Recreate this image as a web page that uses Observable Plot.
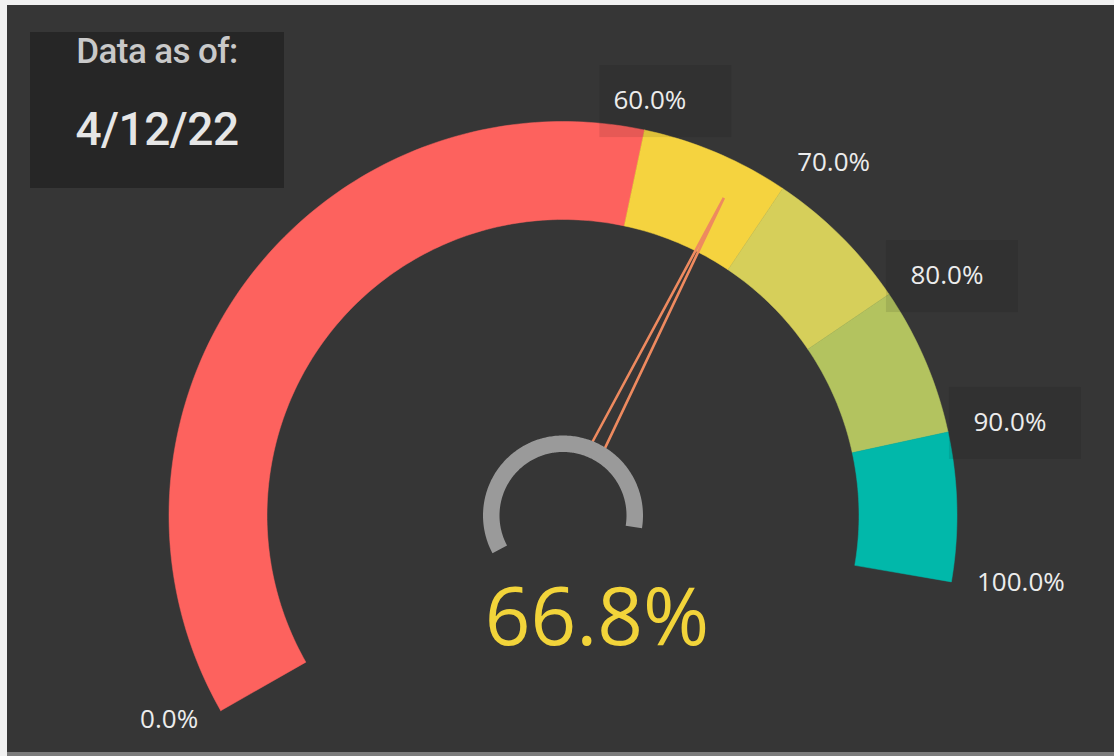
<!DOCTYPE html>
<html>
<head>
<meta charset="utf-8">
<script src="https://cdn.jsdelivr.net/npm/d3@7"></script>
<script src="https://cdn.jsdelivr.net/npm/@observablehq/plot@0.6"></script>
<style>
  html, body { margin: 0; padding: 0; }
  body { width: 1114px; height: 756px; background: #f1f1f1; position: relative; overflow: hidden; }
  #panel { position: absolute; left: 7px; top: 5px; width: 1107px; height: 747px; background: #363636; border-bottom: 4px solid #7c7c7c; }
  #datebox { position: absolute; left: 30px; top: 32px; width: 254px; height: 156px; background: #262626; text-align: center; font-family: Roboto, "DejaVu Sans", sans-serif; }
  #datebox .t1 { position: absolute; left: 0; right: 0; top: 2px; font-size: 35px; font-weight: 500; color: #c9c9c9; line-height: 1; letter-spacing: -0.6px; }
  #datebox .t2 { position: absolute; left: 0; right: 0; top: 74px; font-size: 46px; font-weight: 500; color: #e6e6e6; line-height: 1; letter-spacing: -0.5px; }
  #chart { position: absolute; left: 0; top: 0; }
</style>
</head>
<body>
<div id="panel"></div>
<div id="chart"></div>
<div id="datebox"><div class="t1"></div><div class="t2"></div></div>
<script>
// ---- data ----
const bandStarts = [0.0, 0.6, 0.7, 0.8, 0.9];
const bandEnds   = [0.6, 0.7, 0.8, 0.9, 1.0];
const bandColors = ["#FD625E", "#F5D33F", "#D6CF5A", "#B3C35F", "#01B8AA"];
const tickValues = [0.0, 0.6, 0.7, 0.8, 0.9, 1.0];
const tickLabels = ["0.0%", "60.0%", "70.0%", "80.0%", "90.0%", "100.0%"];
const boxedTicks = [0.6, 0.8, 0.9];
const currentValue = 0.668;
const valueLabel = "66.8%";
const dateTitle = "Data as of:";
const dateValue = "4/12/22";

// ---- gauge geometry ----
const W = 1114, H = 756;
const cx = 562.5, cy = 515;
const rOuter = 394, rInner = 296;
const hubOuter = 80, hubInner = 63.5;
const needleTip = 356, needleHalf = 7;
const labelR = 420;
const ang = d3.scaleLinear().domain([0, 1]).range([-119.7, 99.7]); // degrees, clockwise from up
const rad = d => d * Math.PI / 180;
const pt = (deg, r) => ({x: cx + r * Math.sin(rad(deg)), y: cy - r * Math.cos(rad(deg))});

function arcPolygon(a0, a1, r0, r1) {
  const n = Math.max(2, Math.ceil(Math.abs(a1 - a0)));
  const outer = d3.range(n + 1).map(i => pt(a0 + (a1 - a0) * i / n, r1));
  const inner = d3.range(n + 1).map(i => pt(a1 - (a1 - a0) * i / n, r0));
  const p = outer.concat(inner);
  p.push(p[0]);
  return p;
}

const bands = bandStarts.map((s, i) => ({poly: arcPolygon(ang(s), ang(bandEnds[i]), rInner, rOuter), color: bandColors[i]}));

const labels = tickValues.map((v, i) => {
  const p = pt(ang(v), labelR);
  return {v, text: tickLabels[i], x: p.x, y: p.y - 4};
});
const boxes = labels.filter(d => boxedTicks.includes(d.v)).map(d => {
  const left = d.v <= 0.6 ? d.x - 50 : d.x - 24;
  return {x1: left, x2: left + 132, y1: d.y - 35, y2: d.y + 37};
});

const na = ang(currentValue);
const tip = pt(na, needleTip);
const base = pt(na, hubOuter - 2);
const perp = {x: Math.cos(rad(na)), y: Math.sin(rad(na))};
const needle = [
  {x: base.x - perp.x * needleHalf, y: base.y - perp.y * needleHalf},
  tip,
  {x: base.x + perp.x * needleHalf, y: base.y + perp.y * needleHalf}
];
const hub = arcPolygon(ang(0) + 1.5, ang(1) - 0.5, hubInner, hubOuter);

const textStyle = {fontFamily: "'Open Sans', 'Noto Sans', sans-serif", fontSize: 26, fill: "#ececec"};

const chart = Plot.plot({
  width: W, height: H, margin: 0,
  x: {domain: [0, W], range: [0, W], axis: null},
  y: {domain: [0, H], range: [0, H], axis: null},
  style: {background: "transparent", overflow: "visible"},
  marks: [
    ...bands.map(b => Plot.line(b.poly, {x: "x", y: "y", fill: b.color, stroke: b.color, strokeWidth: 0.5, curve: "linear"})),
    Plot.rect(boxes, {x1: "x1", x2: "x2", y1: "y1", y2: "y2", fill: "#000", fillOpacity: 0.09}),
    Plot.line(needle, {x: "x", y: "y", stroke: "#EE8A5F", strokeWidth: 2.6, strokeLinejoin: "miter", fill: "none"}),
    Plot.line(hub, {x: "x", y: "y", fill: "#9A9A9A", stroke: "none"}),
    Plot.text(labels.filter(d => d.v === 0), {x: "x", y: "y", text: "text", textAnchor: "end", ...textStyle}),
    Plot.text(labels.filter(d => d.v > 0 && d.v <= 0.6), {x: "x", y: "y", text: "text", textAnchor: "middle", ...textStyle}),
    Plot.text(labels.filter(d => d.v > 0.6), {x: "x", y: "y", text: "text", textAnchor: "start", ...textStyle}),
    Plot.text([{x: cx + 34, y: 619, text: valueLabel}], {x: "x", y: "y", text: "text", textAnchor: "middle",
      fontFamily: "'Open Sans', 'Noto Sans', sans-serif", fontWeight: 400, fontSize: 80, fill: "#F2D43A"})
  ]
});
document.getElementById("chart").appendChild(chart);
document.querySelector("#datebox .t1").textContent = dateTitle;
document.querySelector("#datebox .t2").textContent = dateValue;
</script>
</body>
</html>
